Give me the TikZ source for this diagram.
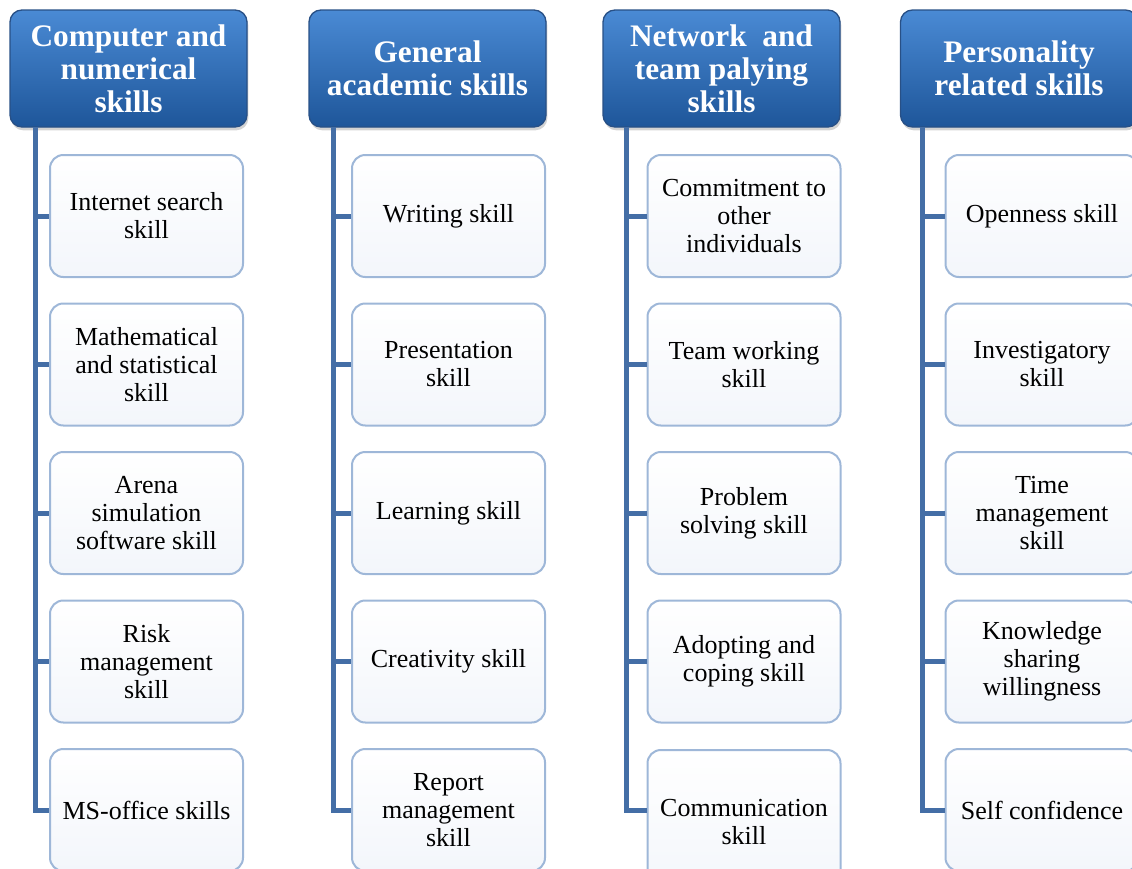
\documentclass[tikz,border=0pt]{standalone}
\usepackage{fontspec}
\setmainfont{Liberation Serif}
\usetikzlibrary{shadows}
\definecolor{headtop}{RGB}{74,138,212}
\definecolor{headbot}{RGB}{30,86,154}
\definecolor{headline}{RGB}{40,80,134}
\definecolor{stemblue}{RGB}{68,110,166}
\definecolor{leafline}{RGB}{158,183,216}
\definecolor{leafbot}{RGB}{243,246,251}
\tikzset{
	head/.style={rectangle, rounded corners=9pt, draw=headline, line width=1pt, top color=headtop, bottom color=headbot,
		text=white, font=\fontsize{23.5}{24.75}\selectfont\bfseries, align=center,
		minimum width=177.75pt, minimum height=87.75pt, inner sep=0pt,
		drop shadow={opacity=0.35, shadow xshift=1pt, shadow yshift=-2.5pt}},
	leaf/.style={rectangle, rounded corners=10pt, draw=leafline, line width=1.5pt, top color=white, bottom color=leafbot,
		font=\fontsize{19.5}{21}\selectfont, align=center,
		minimum width=144.75pt, minimum height=91.5pt, inner sep=0pt},
	branch/.style={draw=stemblue, line width=3.75pt}
}
\begin{document}
\begin{tikzpicture}[x=0.75pt, y=-0.75pt]
	\clip (0,0) rectangle (1132,868);

	%––––– column 1 –––––
	\node[head] (h1) at (128.5,68.5) {Computer and\\numerical\\skills};
	\coordinate (t1) at (35,127);
	\node[leaf] (a1) at (146.5,216) {Internet search\\skill};
	\node[leaf] (a2) at (146.5,364.5) {Mathematical\\and statistical\\skill};
	\node[leaf] (a3) at (146.5,513) {Arena\\simulation\\software skill};
	\node[leaf] (a4) at (146.5,661.5) {Risk\\management\\skill};
	\node[leaf] (a5) at (146.5,810) {MS-office skills};
	\draw[branch] (t1) |- (a1.west);
	\draw[branch] (t1) |- (a2.west);
	\draw[branch] (t1) |- (a3.west);
	\draw[branch] (t1) |- (a4.west);
	\draw[branch] (t1) |- (a5.west);

	%––––– column 2 –––––
	\node[head] (h2) at (427.5,68.5) {General\\academic skills};
	\coordinate (t2) at (333,127);
	\node[leaf] (b1) at (448.5,216) {Writing skill};
	\node[leaf] (b2) at (448.5,364.5) {Presentation\\skill};
	\node[leaf] (b3) at (448.5,513) {Learning skill};
	\node[leaf] (b4) at (448.5,661.5) {Creativity skill};
	\node[leaf] (b5) at (448.5,810) {Report\\management\\skill};
	\draw[branch] (t2) |- (b1.west);
	\draw[branch] (t2) |- (b2.west);
	\draw[branch] (t2) |- (b3.west);
	\draw[branch] (t2) |- (b4.west);
	\draw[branch] (t2) |- (b5.west);

	%––––– column 3 –––––
	\node[head] (h3) at (721.5,68.5) {Network\ \ and\\team palying\\skills};
	\coordinate (t3) at (626,127);
	\node[leaf] (c1) at (744,216) {Commitment to\\other\\individuals};
	\node[leaf] (c2) at (744,364.5) {Team working\\skill};
	\node[leaf] (c3) at (744,513) {Problem\\solving skill};
	\node[leaf] (c4) at (744,661.5) {Adopting and\\coping skill};
	\node[leaf, minimum height=108pt] (c5) at (744,822) {Communication\\skill};
	\draw[branch] (t3) |- (c1.west);
	\draw[branch] (t3) |- (c2.west);
	\draw[branch] (t3) |- (c3.west);
	\draw[branch] (t3) |- (c4.west);
	\draw[branch] (t3) |- (c5.west |- a5.west);

	%––––– column 4 –––––
	\node[head] (h4) at (1019,68.5) {Personality\\related skills};
	\coordinate (t4) at (922,127);
	\node[leaf] (d1) at (1042,216) {Openness skill};
	\node[leaf] (d2) at (1042,364.5) {Investigatory\\skill};
	\node[leaf] (d3) at (1042,513) {Time\\management\\skill};
	\node[leaf] (d4) at (1042,661.5) {Knowledge\\sharing\\willingness};
	\node[leaf] (d5) at (1042,810) {Self confidence};
	\draw[branch] (t4) |- (d1.west);
	\draw[branch] (t4) |- (d2.west);
	\draw[branch] (t4) |- (d3.west);
	\draw[branch] (t4) |- (d4.west);
	\draw[branch] (t4) |- (d5.west);
\end{tikzpicture}
\end{document}
